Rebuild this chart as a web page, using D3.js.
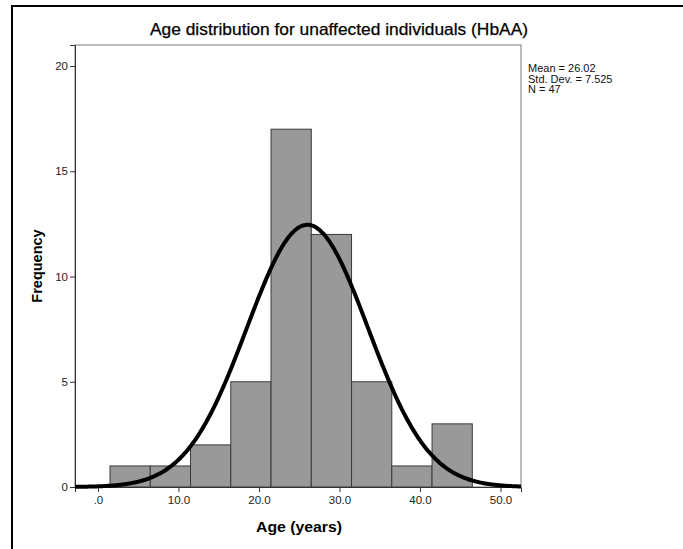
<!DOCTYPE html>
<html>
<head>
<meta charset="utf-8">
<script src="https://cdn.jsdelivr.net/npm/d3@7"></script>
<style>
  html, body { margin: 0; padding: 0; background: #fff; }
  svg { display: block; font-family: "Liberation Sans", Arial, sans-serif; }
</style>
</head>
<body>
<svg id="chart" width="683" height="549"></svg>
<script>
// Histogram bins: lower edge of each 5-year bin and its count
const binLower = [1.5, 6.5, 11.5, 16.5, 21.5, 26.5, 31.5, 36.5, 41.5];
const binWidth = 5;
const counts   = [1, 1, 2, 5, 17, 12, 5, 1, 3];

// Summary statistics shown beside the plot
const stats = { mean: 26.02, sd: 7.525, n: 47 };
const statLines = ["Mean = 26.02", "Std. Dev. = 7.525", "N = 47"];

const xTicks = [0, 10, 20, 30, 40, 50];
const xTickLabels = [".0", "10.0", "20.0", "30.0", "40.0", "50.0"];
const yTicks = [0, 5, 10, 15, 20];

const svg = d3.select("#chart");

// Outer frame (open to the right and bottom edges)
svg.append("rect")
  .attr("x", 12).attr("y", 6)
  .attr("width", 760).attr("height", 640)
  .attr("fill", "none").attr("stroke", "#000").attr("stroke-width", 2);

const plot = { left: 75, right: 521, top: 45, bottom: 487 };

const x = d3.scaleLinear().domain([-2.85, 52.55]).range([plot.left, plot.right]);
const y = d3.scaleLinear().domain([0, 21]).range([plot.bottom, plot.top]);

// Title
svg.append("text")
  .attr("x", 339).attr("y", 35)
  .attr("text-anchor", "middle")
  .attr("font-size", 16.5)
  .attr("textLength", 378)
  .attr("lengthAdjust", "spacingAndGlyphs")
  .attr("fill", "#000")
  .attr("stroke", "#000").attr("stroke-width", 0.25)
  .text("Age distribution for unaffected individuals (HbAA)");

// Plot area box
svg.append("rect")
  .attr("x", plot.left).attr("y", plot.top)
  .attr("width", plot.right - plot.left).attr("height", plot.bottom - plot.top)
  .attr("fill", "#fff").attr("stroke", "#7a7a7a").attr("stroke-width", 1);

// Bars
svg.append("g").selectAll("rect")
  .data(counts.map((c, i) => ({ x0: binLower[i], x1: binLower[i] + binWidth, c })))
  .join("rect")
  .attr("x", d => x(d.x0))
  .attr("y", d => y(d.c))
  .attr("width", d => x(d.x1) - x(d.x0))
  .attr("height", d => y(0) - y(d.c))
  .attr("fill", "#999999")
  .attr("stroke", "#3a3a3a")
  .attr("stroke-width", 1);

// Axes
const yAxis = d3.axisLeft(y).tickValues(yTicks).tickSize(5).tickPadding(2).tickFormat(d3.format("d"));
const gy = svg.append("g").attr("transform", `translate(${plot.left},0)`).call(yAxis);
gy.select(".domain").attr("stroke", "#333");
gy.selectAll(".tick line").attr("stroke", "#333");
gy.selectAll(".tick text").attr("font-size", 11.5).attr("fill", "#222")
  .attr("font-family", "'Liberation Sans', Arial, sans-serif");

const xAxis = d3.axisBottom(x).tickValues(xTicks).tickSize(5).tickPadding(4)
  .tickFormat((d, i) => xTickLabels[i]);
const gx = svg.append("g").attr("transform", `translate(0,${plot.bottom})`).call(xAxis);
gx.select(".domain").attr("stroke", "#333");
gx.selectAll(".tick line").attr("stroke", "#333");
gx.selectAll(".tick text").attr("font-size", 11.5).attr("fill", "#222")
  .attr("font-family", "'Liberation Sans', Arial, sans-serif");

// Fitted normal curve scaled to counts per bin
const pdf = v => Math.exp(-0.5 * ((v - stats.mean) / stats.sd) ** 2) / (stats.sd * Math.sqrt(2 * Math.PI));
const [dx0, dx1] = x.domain();
const curvePts = d3.range(0, 301).map(i => {
  const v = dx0 + (dx1 - dx0) * i / 300;
  return [v, pdf(v) * stats.n * binWidth];
});
svg.append("path")
  .datum(curvePts)
  .attr("fill", "none")
  .attr("stroke", "#000")
  .attr("stroke-width", 4)
  .attr("d", d3.line().x(d => x(d[0])).y(d => y(d[1])).curve(d3.curveBasis));

// Axis titles
svg.append("text")
  .attr("x", 299).attr("y", 532)
  .attr("text-anchor", "middle")
  .attr("font-size", 15).attr("font-weight", "bold")
  .attr("textLength", 86)
  .attr("lengthAdjust", "spacingAndGlyphs")
  .text("Age (years)");

svg.append("text")
  .attr("transform", `translate(42,${(plot.top + plot.bottom) / 2}) rotate(-90)`)
  .attr("text-anchor", "middle")
  .attr("font-size", 14.5).attr("font-weight", "bold")
  .text("Frequency");

// Statistics legend
svg.append("g").selectAll("text")
  .data(statLines)
  .join("text")
  .attr("x", 528)
  .attr("y", (d, i) => 72 + i * 10.5)
  .attr("font-size", 11)
  .attr("fill", "#111")
  .text(d => d);
</script>
</body>
</html>
